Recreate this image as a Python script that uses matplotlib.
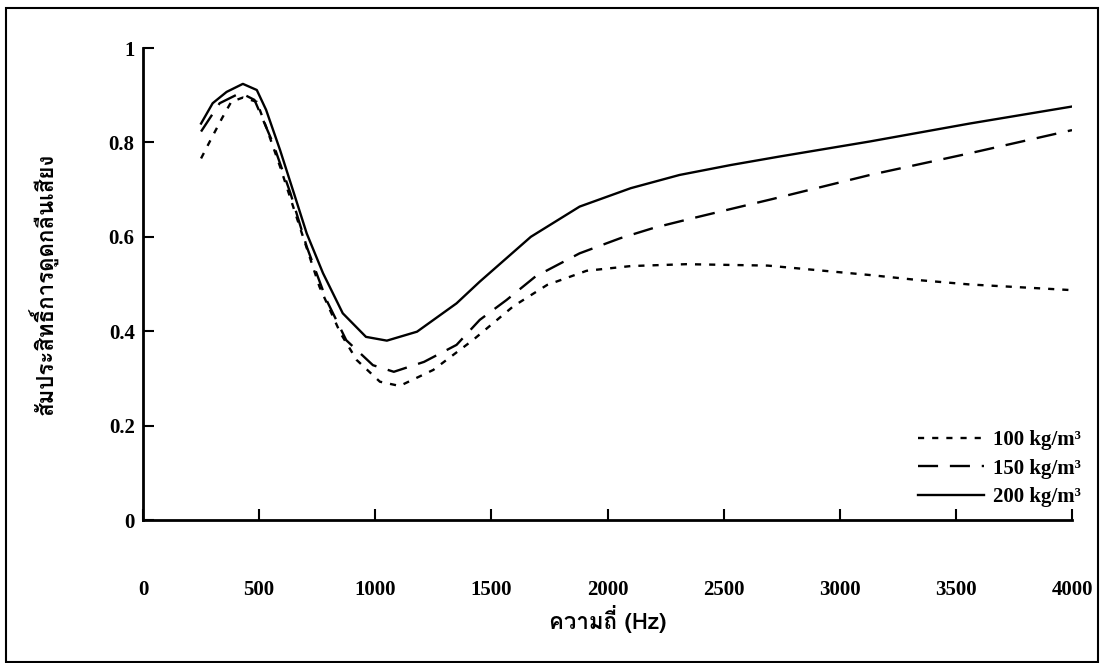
# Sound absorption coefficient vs frequency for three densities
import numpy as np
import matplotlib
matplotlib.use('Agg')
import matplotlib.pyplot as plt
from matplotlib import font_manager
from matplotlib.ft2font import FT2Font
from matplotlib.patches import Rectangle

# data
freq100 = [250, 295, 340, 380, 430, 490, 530, 590, 675, 760, 850, 920, 1020, 1105,
           1250, 1420, 1595, 1740, 1910, 2100, 2340, 2690, 3130, 3345, 3560, 4000]
alpha100 = [0.766, 0.809, 0.851, 0.886, 0.895, 0.886, 0.833, 0.749, 0.621, 0.494, 0.396,
            0.339, 0.293, 0.284, 0.318, 0.381, 0.453, 0.498, 0.528, 0.538, 0.542, 0.539,
            0.519, 0.508, 0.499, 0.487]

freq150 = [250, 330, 420, 480, 560, 635, 705, 790, 875, 990, 1080, 1210, 1350, 1450,
           1565, 1690, 1880, 2055, 2200, 2355, 2515, 2710, 3130, 3560, 4000]
alpha150 = [0.823, 0.883, 0.905, 0.890, 0.798, 0.692, 0.579, 0.466, 0.381, 0.328, 0.314,
            0.335, 0.371, 0.424, 0.466, 0.516, 0.565, 0.597, 0.619, 0.638, 0.657, 0.680,
            0.731, 0.777, 0.826]

freq200 = [250, 300, 360, 430, 490, 530, 590, 650, 705, 775, 860, 960, 1050, 1180, 1350,
           1450, 1670, 1880, 2100, 2310, 2530, 2740, 3130, 3560, 4000]
alpha200 = [0.840, 0.883, 0.907, 0.924, 0.911, 0.869, 0.784, 0.692, 0.607, 0.523, 0.438,
            0.388, 0.380, 0.399, 0.459, 0.505, 0.600, 0.664, 0.703, 0.731, 0.752, 0.770,
            0.802, 0.840, 0.876]

labels = ['100 kg/m³', '150 kg/m³', '200 kg/m³']
xticks = [0, 500, 1000, 1500, 2000, 2500, 3000, 3500, 4000]
yticks = [0, 0.2, 0.4, 0.6, 0.8, 1]
ytick_labels = ['0', '0.2', '0.4', '0.6', '0.8', '1']
xlabel = 'ความถี่ (Hz)'
ylabel = 'สัมประสิทธิ์การดูดกลืนเสียง'


# find some font that actually has Thai glyphs
def find_thai_font():
    for f in font_manager.fontManager.ttflist:
        try:
            if 0x0E01 in FT2Font(f.fname).get_charmap():
                return f.name
        except Exception:
            pass
    return None


thai = find_thai_font()
serif = ['Liberation Serif', 'DejaVu Serif']
thai_family = ([thai] if thai else []) + serif

fig = plt.figure(figsize=(11.04, 6.63), dpi=100)
ax = fig.add_axes([143 / 1104, 1 - 520 / 663, 929 / 1104, 472 / 663])

lw = 1.7
ax.plot(freq100, alpha100, color='black', lw=lw, dashes=(2.6, 3.4), label=labels[0])
ax.plot(freq150, alpha150, color='black', lw=lw, dashes=(8.5, 5), label=labels[1])
ax.plot(freq200, alpha200, color='black', lw=lw, label=labels[2])

ax.set_xlim(0, 4000)
ax.set_ylim(0, 1)
ax.spines['top'].set_visible(False)
ax.spines['right'].set_visible(False)
ax.spines['left'].set_linewidth(2)
ax.spines['bottom'].set_linewidth(2)

ax.set_xticks(xticks)
ax.set_xticklabels([str(t) for t in xticks], family=serif, weight='bold', fontsize=15)
ax.set_yticks(yticks)
ax.set_yticklabels(ytick_labels, family=serif, weight='bold', fontsize=15)
ax.tick_params(axis='x', direction='in', length=8, width=1.5, pad=43)
ax.tick_params(axis='y', direction='in', length=8, width=1.5, pad=6)

ax.set_xlabel(xlabel, family=thai_family, weight='bold', fontsize=16, labelpad=4)
ax.set_ylabel(ylabel, family=thai_family, weight='bold', fontsize=16, labelpad=36)

leg = ax.legend(loc='upper left', bbox_to_anchor=(0.834, 0.19), frameon=False,
                borderpad=0, borderaxespad=0, handlelength=3.2, handletextpad=0.4,
                labelspacing=0.4, prop={'family': serif, 'weight': 'bold', 'size': 15})

# page frame around the scan
fig.patches.append(Rectangle((6 / 1104, 1 / 663), 1092 / 1104, 654 / 663,
                             transform=fig.transFigure, fill=False, lw=1.5,
                             edgecolor='black'))

fig.savefig('out.png', dpi=100)
